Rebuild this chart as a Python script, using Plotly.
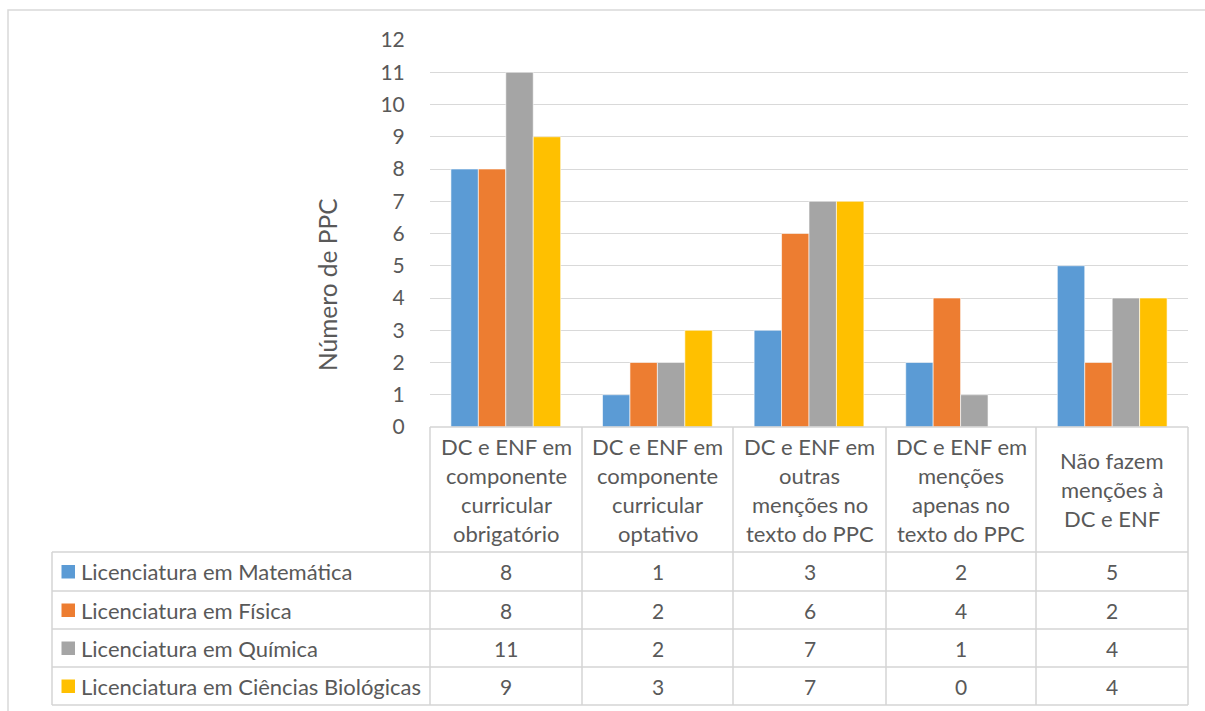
import plotly.graph_objects as go

# Categories (each entry split into the lines shown in the data table)
categories = [
    ["DC e ENF em", "componente", "curricular", "obrigatório"],
    ["DC e ENF em", "componente", "curricular", "optativo"],
    ["DC e ENF em", "outras", "menções no", "texto do PPC"],
    ["DC e ENF em", "menções", "apenas no", "texto do PPC"],
    ["Não fazem", "menções à", "DC e ENF"],
]
series_names = [
    "Licenciatura em Matemática",
    "Licenciatura em Física",
    "Licenciatura em Química",
    "Licenciatura em Ciências Biológicas",
]
matematica = [8, 1, 3, 2, 5]
fisica = [8, 2, 6, 4, 2]
quimica = [11, 2, 7, 1, 4]
biologicas = [9, 3, 7, 0, 4]
y_ticks = list(range(0, 13))

series_values = [matematica, fisica, quimica, biologicas]
colors = ["#5B9BD5", "#ED7D31", "#A5A5A5", "#FFC000"]

W, H = 1205, 711
L, R, T, B = 430, 1188, 40, 427  # plot area in pixels
FONT = "Lato"
TXT = "#595959"
GRID = "#D9D9D9"


def px(x):
    return (x - L) / (R - L)


def py(y):
    return (B - y) / (B - T)


x_idx = list(range(len(categories)))

fig = go.Figure()
for name, vals, col in zip(series_names, series_values, colors):
    fig.add_trace(go.Bar(
        x=x_idx, y=vals, name=name,
        marker=dict(color=col, line=dict(color="white", width=0.6)),
        showlegend=False,
    ))

shapes = []
annotations = []

# outer chart frame
shapes.append(dict(type="rect", xref="paper", yref="paper",
                   x0=px(8), x1=px(1215), y0=py(10), y1=py(725),
                   line=dict(color=GRID, width=1.5), layer="below"))

# data table grid
col_edges = [430, 582, 733, 886, 1036, 1188]
row_edges = [552, 591, 629, 667, 705]
tbl = "#D4D4D4"
shapes.append(dict(type="line", xref="paper", yref="paper",
                   x0=px(430), x1=px(1188), y0=py(427), y1=py(427),
                   line=dict(color=tbl, width=1.5)))
for ye in row_edges:
    shapes.append(dict(type="line", xref="paper", yref="paper",
                       x0=px(52), x1=px(1188), y0=py(ye), y1=py(ye),
                       line=dict(color=tbl, width=1.5)))
for xe in col_edges:
    shapes.append(dict(type="line", xref="paper", yref="paper",
                       x0=px(xe), x1=px(xe), y0=py(427), y1=py(705),
                       line=dict(color=tbl, width=1.5)))
shapes.append(dict(type="line", xref="paper", yref="paper",
                   x0=px(52), x1=px(52), y0=py(552), y1=py(705),
                   line=dict(color=tbl, width=1.5)))

# category header cells
line_gap = 29
for ci, lines in enumerate(categories):
    cx = (col_edges[ci] + col_edges[ci + 1]) / 2
    cy = (427 + 552) / 2
    n = len(lines)
    for li, txt in enumerate(lines):
        yy = cy + (li - (n - 1) / 2) * line_gap
        annotations.append(dict(xref="paper", yref="paper", x=px(cx), y=py(yy),
                                text=txt, showarrow=False, xanchor="center",
                                yanchor="middle",
                                font=dict(family=FONT, size=22, color=TXT)))

# legend keys, series names and values
for ri, (name, vals, col) in enumerate(zip(series_names, series_values, colors)):
    cy = (row_edges[ri] + row_edges[ri + 1]) / 2
    shapes.append(dict(type="rect", xref="paper", yref="paper",
                       x0=px(61.5), x1=px(75), y0=py(cy - 6.5), y1=py(cy + 7),
                       fillcolor=col, line=dict(width=0)))
    annotations.append(dict(xref="paper", yref="paper", x=px(79), y=py(cy),
                            text=name, showarrow=False, xanchor="left",
                            yanchor="middle",
                            font=dict(family=FONT, size=22, color=TXT)))
    for ci, v in enumerate(vals):
        cx = (col_edges[ci] + col_edges[ci + 1]) / 2
        annotations.append(dict(xref="paper", yref="paper", x=px(cx), y=py(cy),
                                text=str(v), showarrow=False, xanchor="center",
                                yanchor="middle",
                                font=dict(family=FONT, size=21, color=TXT)))

# vertical axis title
annotations.append(dict(xref="paper", yref="paper", x=px(327), y=py(285),
                        text="Número de PPC", textangle=-90, showarrow=False,
                        xanchor="center", yanchor="middle",
                        font=dict(family=FONT, size=24.5, color=TXT)))

fig.update_layout(
    width=W, height=H,
    margin=dict(l=L, r=W - R, t=T, b=H - B, pad=0),
    paper_bgcolor="white", plot_bgcolor="white",
    barmode="group", bargap=0.276, bargroupgap=0,
    font=dict(family=FONT, color=TXT),
    xaxis=dict(range=[-0.5, len(categories) - 0.5], showticklabels=False,
               showgrid=False, zeroline=False, ticks="", fixedrange=True),
    yaxis=dict(range=[0, 12], tickvals=y_ticks, showgrid=True, gridcolor=GRID,
               gridwidth=1.2, zeroline=False, ticks="outside", ticklen=20,
               tickcolor="rgba(0,0,0,0)",
               tickfont=dict(family=FONT, size=21, color=TXT)),
    shapes=shapes, annotations=annotations,
)

fig.write_html("out.html")
